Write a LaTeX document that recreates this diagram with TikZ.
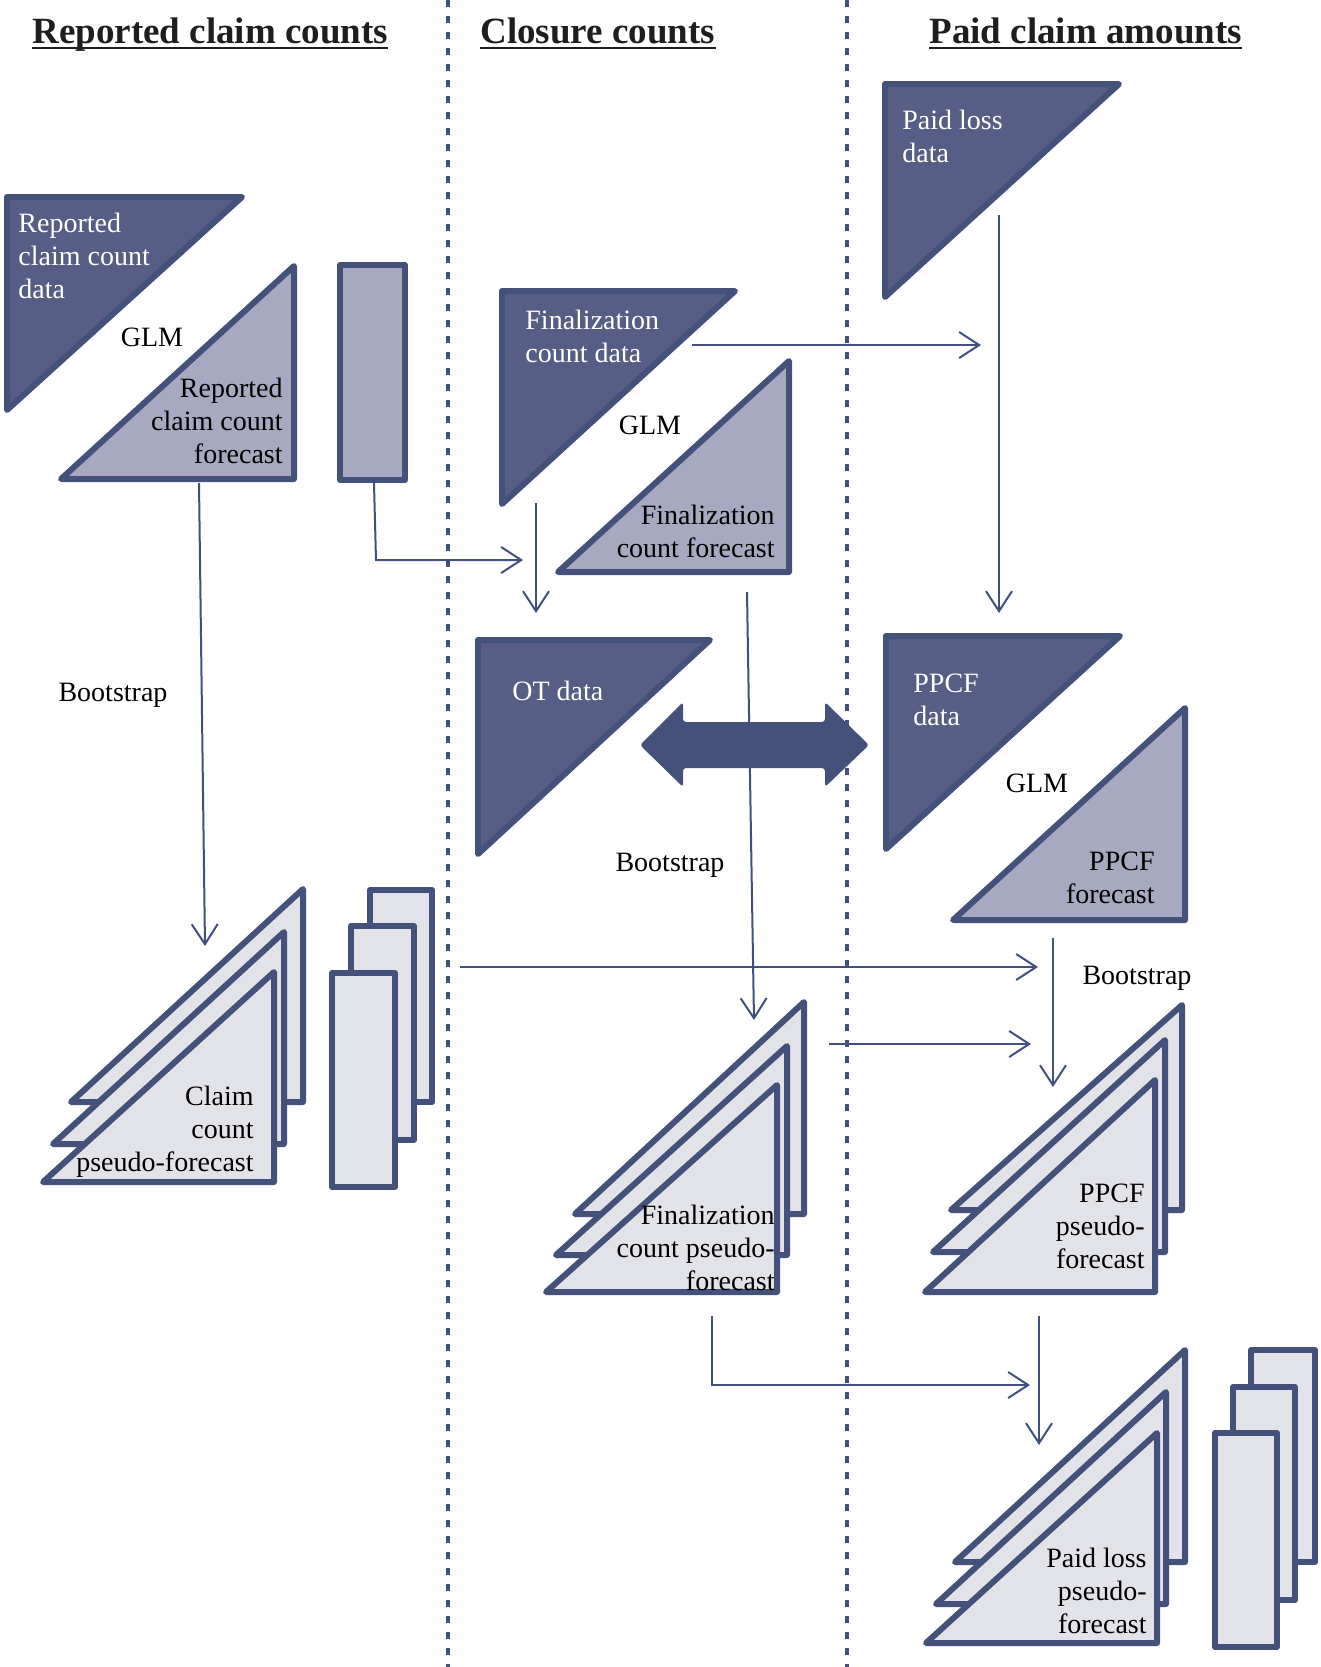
\documentclass[tikz,border=0pt]{standalone}
\usepackage{fontspec}
\setmainfont{Liberation Serif}
\usetikzlibrary{arrows.meta}
\definecolor{dk}{RGB}{87,94,134}
\definecolor{bd}{RGB}{68,81,122}
\definecolor{lt}{RGB}{166,169,191}
\definecolor{pl}{RGB}{226,226,233}
\definecolor{ln}{RGB}{66,80,128}
\definecolor{hd}{RGB}{30,30,30}
\begin{document}
\begin{tikzpicture}[x=0.5pt,y=-0.5pt,
 shp/.style={draw=bd,line width=3pt,line join=round},
 darkshp/.style={shp,fill=dk},
 lightshp/.style={shp,fill=lt},
 paleshp/.style={shp,fill=pl},
 conn/.style={draw=ln,line width=1pt,-{Straight Barb[length=10pt,width=13pt]}},
 lbl/.style={inner sep=0pt,font=\fontsize{14}{16.3}\selectfont},
 wlbl/.style={lbl,text=white,align=left,anchor=base west},
 rlbl/.style={lbl,text=black,align=right,anchor=base east},
 clbl/.style={lbl,text=black,anchor=base},
 hdr/.style={inner sep=0pt,anchor=base west,font=\fontsize{18.5}{22}\selectfont\bfseries,text=hd},
 uline/.style={draw=hd,line width=1.35pt},
 divider/.style={draw=bd,line width=1.6pt,dash pattern=on 3.5pt off 4.5pt}]
\useasboundingbox (0,0) rectangle (1321,1667);

% column dividers
\draw[divider] (448,0) -- (448,1667);
\draw[divider] (847,0) -- (847,1667);

% headers
\node[hdr] (h1) at (32,43) {Reported claim counts};
\node[hdr] (h2) at (480,43) {Closure counts};
\node[hdr] (h3) at (929,43) {Paid claim amounts};
\foreach \h in {h1,h2,h3}
  \draw[uline] ([yshift=-2.5pt]\h.base west) -- ([yshift=-2.5pt]\h.base east);

% ---------- Reported claim counts ----------
\path[darkshp] (7,197) -- (242,197) -- (7,410) -- cycle;
\path[lightshp] (294,266) -- (294,479) -- (61,479) -- cycle;
\path[lightshp] (340,265) rectangle (405,480);
\node[wlbl] (rcd) at (18,298) {Reported\\claim count\\data};
\node[rlbl] (rcf) at (283,463) {Reported\\claim count\\forecast};
\node[clbl] (glm1) at (152,346) {GLM};
\node[clbl] (bs1) at (113,701) {Bootstrap};

% left pseudo stack
\path[paleshp] (303,889) -- (303,1102) -- (71,1102) -- cycle;
\path[paleshp] (284,932) -- (284,1144) -- (53,1144) -- cycle;
\path[paleshp] (274,972) -- (274,1182) -- (43,1182) -- cycle;
\path[paleshp] (370,890) rectangle (432,1102);
\path[paleshp] (351,926) rectangle (414,1140);
\path[paleshp] (332,973) rectangle (395,1187);
\node[rlbl] (ccp) at (254,1171) {Claim\\count\\pseudo-forecast};

% ---------- Closure counts ----------
\path[darkshp] (502,291) -- (735,291) -- (502,504) -- cycle;
\path[lightshp] (789,361) -- (789,572) -- (558,572) -- cycle;
\node[wlbl] (fcd) at (525,362.5) {Finalization\\count data};
\node[rlbl] (fcf) at (775,557.5) {Finalization\\count forecast};
\node[clbl] (glm2) at (650,434) {GLM};

\path[darkshp] (478,640) -- (710,640) -- (478,854) -- cycle;
\node[wlbl] (ot) at (512,700) {OT data};
\node[clbl] (bs2) at (670,871) {Bootstrap};

% middle pseudo stack
\path[paleshp] (804,1002) -- (804,1214) -- (575,1214) -- cycle;
\path[paleshp] (787,1046) -- (787,1255) -- (556,1255) -- cycle;
\path[paleshp] (777,1085) -- (777,1292) -- (546,1292) -- cycle;
\node[rlbl] (fcp) at (775,1290) {Finalization\\count pseudo-\\forecast};

% ---------- Paid claim amounts ----------
\path[darkshp] (885,84) -- (1119,84) -- (885,297) -- cycle;
\node[wlbl] (pld) at (902,162.5) {Paid loss\\data};

\path[darkshp] (886,636) -- (1120,636) -- (886,849) -- cycle;
\path[lightshp] (1185,708) -- (1185,920) -- (953,920) -- cycle;
\node[wlbl] (ppd) at (913,725.5) {PPCF\\data};
\node[rlbl] (ppf) at (1155,903.5) {PPCF\\forecast};
\node[clbl] (glm3) at (1037,792) {GLM};
\node[clbl] (bs3) at (1137,984) {Bootstrap};

% PPCF pseudo stack
\path[paleshp] (1182,1005) -- (1182,1210) -- (951,1210) -- cycle;
\path[paleshp] (1165,1040) -- (1165,1252) -- (933,1252) -- cycle;
\path[paleshp] (1155,1080) -- (1155,1292) -- (925,1292) -- cycle;
\node[rlbl] (ppp) at (1145,1268) {PPCF\\pseudo-\\forecast};

% paid loss pseudo stack
\path[paleshp] (1185,1350) -- (1185,1562) -- (955,1562) -- cycle;
\path[paleshp] (1166,1392) -- (1166,1604) -- (936,1604) -- cycle;
\path[paleshp] (1157,1433) -- (1157,1643) -- (926,1643) -- cycle;
\path[paleshp] (1251,1350) rectangle (1315,1562);
\path[paleshp] (1233,1387) rectangle (1295,1600);
\path[paleshp] (1215,1433) rectangle (1277,1647);
\node[rlbl] (plp) at (1147,1633) {Paid loss\\pseudo-\\forecast};

% ---------- connector end points ----------
\coordinate (rcfB) at (199,483);   \coordinate (ccpT) at (205,946);
\coordinate (rcrB) at (374,483);   \coordinate (rcrK) at (376,560);
\coordinate (otL) at (523,560);
\coordinate (fcdB) at (536,503);   \coordinate (otT) at (536,613);
\coordinate (fcdR) at (692,345);   \coordinate (pldJ) at (981,345);
\coordinate (pldB) at (999,215);   \coordinate (ppdT) at (999,613);
\coordinate (fcfB) at (747,592);   \coordinate (fcpT) at (754,1020);
\coordinate (ccpR) at (460,967);   \coordinate (pppL1) at (1038,967);
\coordinate (fcpR) at (829,1044);  \coordinate (pppL2) at (1031,1044);
\coordinate (ppfB) at (1053,938);  \coordinate (pppT) at (1053,1087);
\coordinate (fcpB) at (712,1316);  \coordinate (fcpK) at (712,1385);
\coordinate (plpL) at (1030,1385);
\coordinate (pppB) at (1039,1316); \coordinate (plpT) at (1039,1445);

% ---------- connectors ----------
\draw[conn] (rcfB) -- (ccpT);
\draw[conn] (rcrB) -- (rcrK) -- (otL);
\draw[conn] (fcdB) -- (otT);
\draw[conn] (fcdR) -- (pldJ);
\draw[conn] (pldB) -- (ppdT);
\draw[conn] (fcfB) -- (fcpT);
\draw[conn] (ccpR) -- (pppL1);
\draw[conn] (fcpR) -- (pppL2);
\draw[conn] (ppfB) -- (pppT);
\draw[conn] (fcpB) -- (fcpK) -- (plpL);
\draw[conn] (pppB) -- (plpT);

% double arrow between OT data and PPCF data
\fill[bd, rounded corners=1.5pt] (640,745) -- (683,702) -- (683,722) -- (825,722) -- (825,702)
  -- (869,745) -- (825,787) -- (825,768) -- (683,768) -- (683,787) -- cycle;
\end{tikzpicture}
\end{document}
